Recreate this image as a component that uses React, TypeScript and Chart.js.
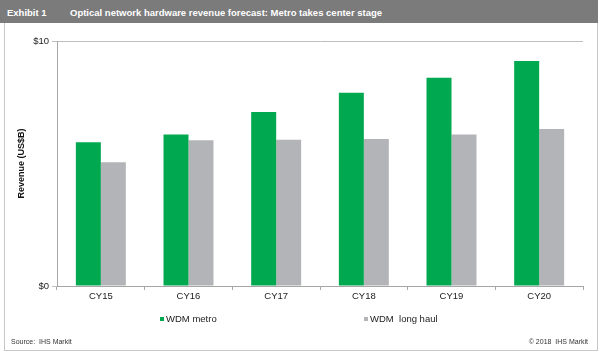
import React, { useEffect, useRef } from "react";
import { Chart, registerables } from "chart.js";

Chart.register(...registerables);

const categories = ["CY15", "CY16", "CY17", "CY18", "CY19", "CY20"];
const metroValues = [5.87, 6.18, 7.1, 7.89, 8.5, 9.18];
const longHaulValues = [5.05, 5.95, 5.97, 6.0, 6.18, 6.41];
const seriesLabels = ["WDM metro", "WDM  long haul"];
const seriesColors = ["#00a84f", "#b3b4b7"];
const yTickLabels: Record<number, string> = { 0: "$0", 10: "$10" };

const FONT = "Arial, 'Liberation Sans', sans-serif";

export default function App() {
  const ref = useRef<HTMLCanvasElement | null>(null);

  useEffect(() => {
    if (!ref.current) return;
    const chart = new Chart(ref.current, {
      type: "bar",
      data: {
        labels: categories,
        datasets: [
          {
            label: seriesLabels[0],
            data: metroValues,
            backgroundColor: seriesColors[0],
            categoryPercentage: 0.57,
            barPercentage: 1,
          },
          {
            label: seriesLabels[1],
            data: longHaulValues,
            backgroundColor: seriesColors[1],
            categoryPercentage: 0.57,
            barPercentage: 1,
          },
        ],
      },
      options: {
        animation: false,
        responsive: false,
        maintainAspectRatio: false,
        layout: { padding: { top: 41, right: 17, left: 0, bottom: 0 } },
        plugins: {
          legend: { display: false },
          tooltip: { enabled: false },
          title: { display: false },
        },
        scales: {
          x: {
            grid: {
              display: true,
              drawOnChartArea: false,
              drawTicks: true,
              tickLength: 4,
              color: "#a6a6a6",
              offset: true,
            },
            border: { display: true, color: "#a6a6a6", width: 1 },
            ticks: {
              color: "#222",
              font: { family: FONT, size: 9.5 },
              padding: 1,
            },
            afterFit: (scale: any) => {
              scale.height = 359 - 286;
            },
          },
          y: {
            min: 0,
            max: 10,
            grid: {
              color: "#bfbfbf",
              drawTicks: true,
              tickLength: 5,
            },
            border: { display: true, color: "#a6a6a6", width: 1 },
            ticks: {
              stepSize: 10,
              color: "#222",
              font: { family: FONT, size: 9.5 },
              padding: 3,
              callback: (v: any) => yTickLabels[Number(v)] ?? "",
            },
            title: {
              display: true,
              text: "Revenue (US$B)",
              color: "#111",
              font: { family: FONT, size: 9, weight: "bold" },
              padding: { top: 16, bottom: 0 },
            },
            afterFit: (scale: any) => {
              scale.width = 57;
            },
          },
        },
      },
    });
    return () => chart.destroy();
  }, []);

  const legendItem = (i: number, left: number) => (
    <div
      style={{
        position: "absolute",
        left,
        top: 313,
        fontSize: 9.5,
        lineHeight: "12px",
        color: "#222",
        whiteSpace: "pre",
        display: "flex",
        alignItems: "center",
      }}
    >
      <span
        style={{
          display: "inline-block",
          width: 4,
          height: 4,
          background: seriesColors[i],
          marginRight: 2,
        }}
      />
      {seriesLabels[i]}
    </div>
  );

  return (
    <div
      style={{
        position: "absolute",
        left: 0,
        top: 0,
        width: 600,
        height: 359,
        background: "#fff",
        fontFamily: FONT,
        overflow: "hidden",
      }}
    >
      <div
        style={{
          position: "absolute",
          left: 0,
          top: 0,
          width: 598,
          height: 23,
          background: "#7b7b7b",
          color: "#fff",
          fontWeight: "bold",
          fontSize: 9.5,
          lineHeight: "26px",
        }}
      >
        <span style={{ position: "absolute", left: 7 }}>Exhibit 1</span>
        <span style={{ position: "absolute", left: 70 }}>
          Optical network hardware revenue forecast: Metro takes center stage
        </span>
      </div>
      <div
        style={{
          position: "absolute",
          left: 4,
          top: 23,
          width: 592,
          height: 327,
          border: "1px solid #c8c8c8",
          borderTop: "none",
        }}
      />
      <canvas
        ref={ref}
        width={600}
        height={359}
        style={{ position: "absolute", left: 0, top: 0, width: 600, height: 359 }}
      />
      {legendItem(0, 160)}
      {legendItem(1, 364)}
      <div
        style={{
          position: "absolute",
          left: 11,
          top: 338,
          fontSize: 7,
          color: "#333",
          whiteSpace: "pre",
        }}
      >
        Source:  IHS Markit
      </div>
      <div
        style={{
          position: "absolute",
          right: 12,
          top: 338,
          fontSize: 7,
          color: "#333",
          whiteSpace: "pre",
        }}
      >
        © 2018  IHS Markit
      </div>
    </div>
  );
}
